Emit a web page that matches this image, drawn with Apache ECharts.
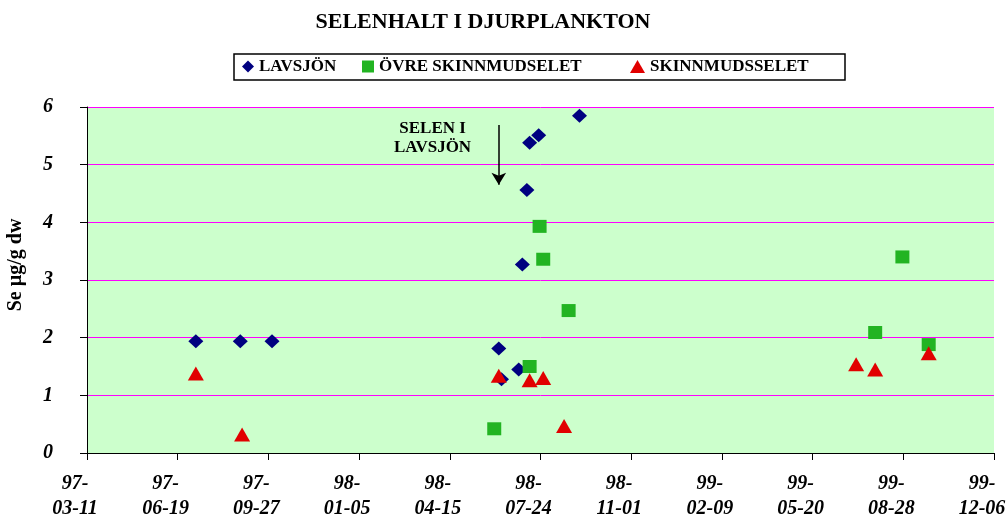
<!DOCTYPE html>
<html>
<head>
<meta charset="utf-8">
<script src="https://cdn.jsdelivr.net/npm/echarts@6/dist/echarts.min.js"></script>
<style>
html,body{margin:0;padding:0;background:#fff;}
#chart{width:1008px;height:516px;}
</style>
</head>
<body>
<div id="chart"></div>
<script>
const startDate = '1997-03-11';
const titleText = 'SELENHALT I DJURPLANKTON';
const yAxisName = 'Se µg/g dw';
const seriesNames = ['LAVSJÖN', 'ÖVRE SKINNMUDSELET', 'SKINNMUDSSELET'];

const lavDates = ['1997-07-09','1997-08-27','1997-10-01','1998-06-08','1998-06-11','1998-06-30','1998-07-04','1998-07-09','1998-07-12','1998-07-22','1998-09-05'];
const lavValues = [1.94,1.94,1.94,1.81,1.28,1.45,3.27,4.56,5.38,5.51,5.85];

const ovreDates = ['1998-06-03','1998-07-12','1998-07-23','1998-07-27','1998-08-24','1999-07-28','1999-08-27','1999-09-25'];
const ovreValues = [0.42,1.50,3.93,3.36,2.47,2.09,3.40,1.88];

const skinDates = ['1997-07-09','1997-08-29','1998-06-08','1998-07-12','1998-07-27','1998-08-19','1999-07-07','1999-07-28','1999-09-25'];
const skinValues = [1.38,0.32,1.34,1.26,1.30,0.47,1.54,1.45,1.73];

const annotationText = 'SELEN I\nLAVSJÖN';
const annotationDate = '1998-06-08';
const arrowFrom = 5.69, arrowTo = 4.65;
const annotationLabelDate = '1998-03-27';
const annotationLabelValue = 5.46;

const DAY = 86400000;
function toDay(s){
  const p = s.split('-').map(Number);
  const q = startDate.split('-').map(Number);
  return Math.round((Date.UTC(p[0],p[1]-1,p[2]) - Date.UTC(q[0],q[1]-1,q[2])) / DAY);
}
function pairs(d, v){ return d.map((x,i)=>[toDay(x), v[i]]); }
function fmtTick(v){
  const q = startDate.split('-').map(Number);
  const d = new Date(Date.UTC(q[0],q[1]-1,q[2]) + v*DAY);
  const yy = String(d.getUTCFullYear()).slice(2);
  const mm = String(d.getUTCMonth()+1).padStart(2,'0');
  const dd = String(d.getUTCDate()).padStart(2,'0');
  return yy + '-\n' + mm + '-' + dd;
}

const serif = '"Liberation Serif","Times New Roman",serif';
const chart = echarts.init(document.getElementById('chart'));
const legendText = {fontFamily: serif, fontWeight: 'bold', fontSize: 17, color: '#000'};

chart.setOption({
  animation: false,
  backgroundColor: '#fff',
  title: {
    text: titleText, left: 478, top: 6, textAlign: 'center',
    textStyle: {fontFamily: serif, fontWeight: 'bold', fontSize: 22, color: '#000'}
  },
  legend: [
    {data: [seriesNames[0]], left: 242, top: 58, itemWidth: 12, itemHeight: 12, textStyle: legendText, padding: 0},
    {data: [seriesNames[1]], left: 362, top: 58, itemWidth: 12, itemHeight: 12, textStyle: legendText, padding: 0},
    {data: [seriesNames[2]], left: 630, top: 58, itemWidth: 15, itemHeight: 13, textStyle: legendText, padding: 0}
  ],
  graphic: [
    {type: 'rect', shape: {x: 234, y: 54, width: 611, height: 26}, style: {fill: 'none', stroke: '#000', lineWidth: 1.5}, z: -1}
  ],
  grid: {
    left: 87, right: 14, top: 107, bottom: 63,
    outerBoundsMode: 'none', containLabel: false,
    show: true, backgroundColor: '#CCFFCC', borderWidth: 0
  },
  xAxis: {
    type: 'value', min: 0, max: 1000, interval: 100,
    axisLine: {show: true, lineStyle: {color: '#000', width: 1}},
    axisTick: {show: true, length: 7, lineStyle: {color: '#000'}},
    splitLine: {show: false},
    axisLabel: {
      formatter: fmtTick, margin: 18, padding: [0, 24, 0, 0],
      fontFamily: serif, fontWeight: 'bold', fontStyle: 'italic', fontSize: 20, color: '#000',
      lineHeight: 25, showMinLabel: true, showMaxLabel: true, hideOverlap: false
    }
  },
  yAxis: {
    type: 'value', min: 0, max: 6, interval: 1,
    name: yAxisName, nameLocation: 'middle', nameRotate: 90, nameGap: 61,
    nameTextStyle: {fontFamily: serif, fontWeight: 'bold', fontSize: 20, color: '#000', padding: [0, 0, 0, 30]},
    axisLine: {show: true, lineStyle: {color: '#000', width: 1}},
    axisTick: {show: true, length: 7, lineStyle: {color: '#000'}},
    splitLine: {show: true, lineStyle: {color: '#FF00FF', width: 1}},
    axisLabel: {
      margin: 34, fontFamily: serif, fontWeight: 'bold', fontStyle: 'italic', fontSize: 20, color: '#000'
    }
  },
  series: [
    {
      name: seriesNames[0], type: 'scatter', symbol: 'diamond', symbolSize: [15, 14],
      itemStyle: {color: '#000080', opacity: 1},
      data: pairs(lavDates, lavValues),
      markLine: {
        silent: true, animation: false,
        symbol: ['none', 'arrow'], symbolSize: [11, 12],
        lineStyle: {color: '#000', width: 1.5, type: 'solid'},
        label: {show: false},
        data: [[{coord: [toDay(annotationDate), arrowFrom]}, {coord: [toDay(annotationDate), arrowTo]}]]
      },
      markPoint: {
        silent: true, animation: false, symbol: 'circle', symbolSize: 0,
        label: {show: true, formatter: annotationText, fontFamily: serif, fontWeight: 'bold', fontSize: 17, color: '#000', lineHeight: 19, align: 'center'},
        data: [{coord: [toDay(annotationLabelDate), annotationLabelValue]}]
      }
    },
    {
      name: seriesNames[1], type: 'scatter', symbol: 'rect', symbolSize: [14, 13],
      itemStyle: {color: '#22B422', opacity: 1},
      data: pairs(ovreDates, ovreValues)
    },
    {
      name: seriesNames[2], type: 'scatter', symbol: 'triangle', symbolSize: [16, 14],
      itemStyle: {color: '#E10000', opacity: 1},
      data: pairs(skinDates, skinValues)
    }
  ]
});
</script>
</body>
</html>
